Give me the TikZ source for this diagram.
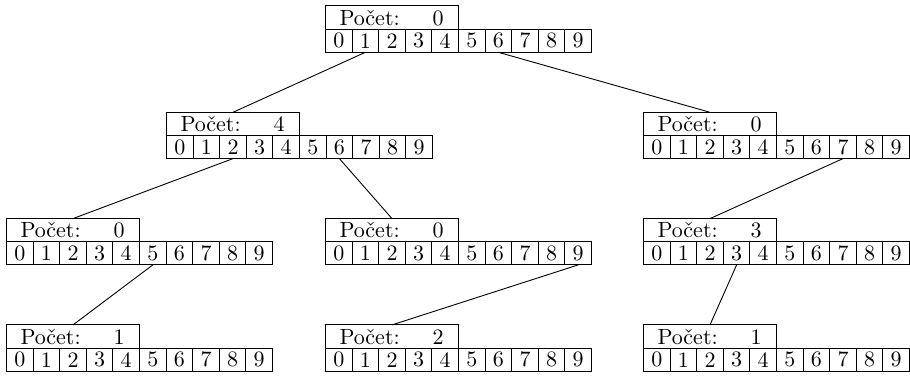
\documentclass[tikz,border=0pt]{standalone}
\usepackage{fontspec}
\usepackage{graphicx}
\tikzset{
  hdr/.style={draw, line width=1pt, anchor=north west, inner sep=0pt, outer sep=0pt,
    minimum width=133pt, minimum height=23.3pt},
  cellbox/.style={draw, line width=1pt, anchor=north west, inner sep=0pt, outer sep=0pt,
    minimum width=26.6pt, minimum height=23pt},
  link/.style={line width=0.9pt}
}
\newcommand\sz[1]{\scalebox{2.2}{#1}}
\newcommand\tnode[4]{%
  \node[hdr] (#1-h) at (#2,#3) {\makebox[133pt][l]{\hspace{14pt}\sz{Počet:}\hfill\sz{#4}\hspace{15pt}}};
  \foreach \i in {0,...,9}{%
    \node[cellbox] (#1-\i) at ({#2+\i*26.6},{#3+23.3}) {\sz{\i}};
  }%
}
\begin{document}
\begin{tikzpicture}[x=1pt,y=-1pt]
\useasboundingbox (0,0) rectangle (910,377);
\tnode{t}{325.5}{6}{0}
\tnode{a}{166.5}{112.3}{4}
\tnode{b}{643.5}{112.3}{0}
\tnode{c}{6.5}{218.6}{0}
\tnode{d}{325.5}{218.6}{0}
\tnode{e}{643.5}{218.6}{3}
\tnode{f}{6.5}{324.9}{1}
\tnode{g}{325.5}{324.9}{2}
\tnode{h}{643.5}{324.9}{1}
\draw[link] (t-1.south) -- (a-h.north);
\draw[link] (t-6.south) -- (b-h.north);
\draw[link] (a-2.south) -- (c-h.north);
\draw[link] (a-6.south) -- (d-h.north);
\draw[link] (b-7.south) -- (e-h.north);
\draw[link] (c-5.south) -- (f-h.north);
\draw[link] (d-9.south) -- (g-h.north);
\draw[link] (e-3.south) -- (h-h.north);
\end{tikzpicture}
\end{document}
